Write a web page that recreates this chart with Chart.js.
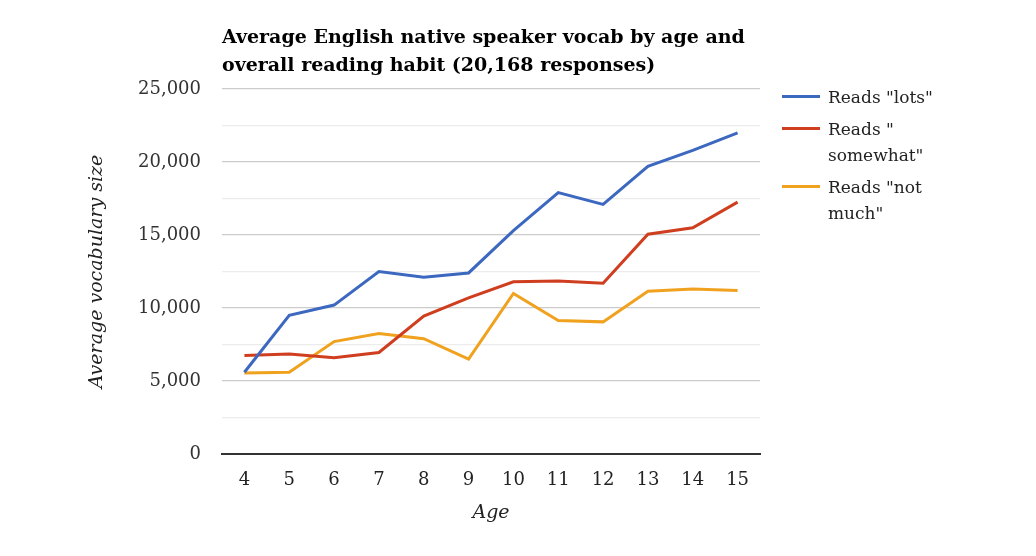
<!DOCTYPE html>
<html><head><meta charset="utf-8">
<script src="https://cdn.jsdelivr.net/npm/chart.js@4/dist/chart.umd.min.js"></script>
<style>
html,body{margin:0;padding:0;background:#fff;}
#wrap{position:relative;width:1036px;height:556px;}
#title{position:absolute;left:222px;top:22px;font-family:"DejaVu Serif",serif;font-weight:bold;font-size:19px;line-height:28px;color:#000;width:560px;}
#legend{position:absolute;left:782px;top:84px;font-family:"DejaVu Serif",serif;font-size:17px;color:#222;}
.li{display:flex;align-items:flex-start;margin-bottom:6px;}
.sw{width:38px;height:3px;margin-top:11px;margin-right:8px;flex:none;}
.tx{line-height:26px;width:130px;}
</style></head><body>
<div id="wrap"><canvas id="c" width="1036" height="556"></canvas>
<div id="title">Average English native speaker vocab by age and overall reading habit (20,168 responses)</div>
<div id="legend"></div></div>
<script>
const ages = ["4","5","6","7","8","9","10","11","12","13","14","15"];
const seriesNames = ['Reads "lots"', 'Reads " somewhat"', 'Reads "not much"'];
const readsLots = [5600, 9500, 10200, 12500, 12100, 12400, 15300, 17900, 17100, 19700, 20800, 22000];
const readsSomewhat = [6750, 6850, 6600, 6950, 9450, 10700, 11800, 11850, 11700, 15050, 15500, 17250];
const readsNotMuch = [5550, 5600, 7700, 8250, 7900, 6500, 11000, 9150, 9050, 11150, 11300, 11200];
const colors = ["#3c68c0", "#cf3f1f", "#f0a21f"];

const lg = document.getElementById('legend');
seriesNames.forEach((n,i)=>{
  const d=document.createElement('div');d.className='li';
  const s=document.createElement('div');s.className='sw';s.style.background=colors[i];
  const t=document.createElement('div');t.className='tx';t.textContent=n;
  d.appendChild(s);d.appendChild(t);lg.appendChild(d);
});

const font = {family:"DejaVu Serif", size:18};
new Chart(document.getElementById('c'), {
  type:'line',
  data:{labels:ages, datasets:[
    {label:seriesNames[0], data:readsLots, borderColor:colors[0]},
    {label:seriesNames[1], data:readsSomewhat, borderColor:colors[1]},
    {label:seriesNames[2], data:readsNotMuch, borderColor:colors[2]}
  ].map(d=>Object.assign(d,{borderWidth:3, pointRadius:0, tension:0, fill:false}))},
  options:{
    responsive:false, animation:false,
    layout:{padding:{left:82, right:276, top:89, bottom:28}},
    plugins:{legend:{display:false}, tooltip:{enabled:false}},
    scales:{
      x:{
        offset:true,
        grid:{display:false, drawTicks:false},
        border:{display:true, color:'#333', width:2},
        ticks:{font:font, color:'#222', padding:16},
        title:{display:true, text:'Age', font:{family:"DejaVu Serif", size:19, style:'italic'}, color:'#222', padding:{top:6}},
        afterFit:(s)=>{s.height=74;}
      },
      y:{
        min:0, max:25000,
        grid:{drawTicks:false, color:(ctx)=> (ctx.tick.value===0 ? 'rgba(0,0,0,0)' : (ctx.tick.value%5000===0 ? '#cccccc' : '#ececec')), lineWidth:1.2},
        border:{display:false},
        ticks:{stepSize:2500, font:font, color:'#333', padding:21,
          callback:(v)=> v%5000===0 ? v.toLocaleString('en-US') : ''},
        title:{display:true, text:'Average vocabulary size', font:{family:"DejaVu Serif", size:19, style:'italic'}, color:'#222', padding:{bottom:0}},
        afterFit:(s)=>{s.width=140;}
      }
    }
  }
});
</script></body></html>
